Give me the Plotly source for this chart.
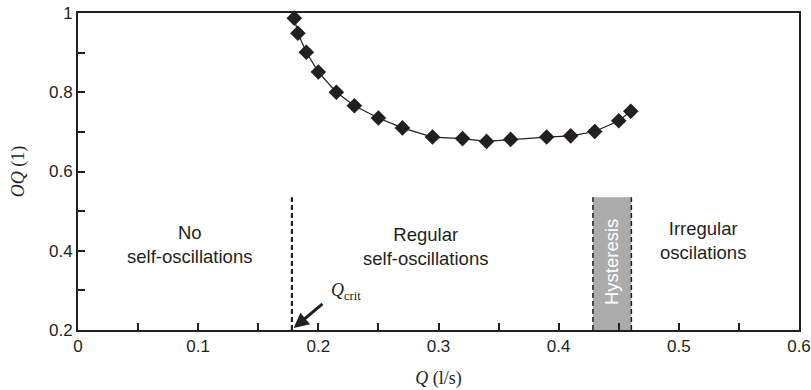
import plotly.graph_objects as go

# Data
q_values = [0.180, 0.183, 0.190, 0.200, 0.215, 0.230, 0.250, 0.270, 0.295,
            0.320, 0.340, 0.360, 0.390, 0.410, 0.430, 0.450, 0.460]
oq_values = [0.987, 0.949, 0.901, 0.851, 0.800, 0.766, 0.735, 0.710, 0.687,
             0.683, 0.676, 0.681, 0.687, 0.690, 0.701, 0.728, 0.752]
q_crit = 0.178
hyst_start, hyst_end = 0.4285, 0.4605
region_top = 0.535

ink = "#231f20"
sans = "Liberation Sans, Arial, sans-serif"
serif = "Liberation Serif, Times New Roman, serif"

fig = go.Figure()

# Hysteresis band
fig.add_shape(type="rect", xref="x", yref="y", x0=hyst_start, x1=hyst_end,
              y0=0.2, y1=region_top, fillcolor="#ababab", line=dict(width=0), layer="below")
for xv in (hyst_start, hyst_end):
    fig.add_shape(type="line", xref="x", yref="y", x0=xv, x1=xv, y0=0.2, y1=region_top,
                  line=dict(color=ink, width=1.5, dash="5px,3px"))
# Q_crit dashed line
fig.add_shape(type="line", xref="x", yref="y", x0=q_crit, x1=q_crit, y0=0.2, y1=region_top,
              line=dict(color=ink, width=2.2, dash="5px,3px"))

fig.add_trace(go.Scatter(
    x=q_values, y=oq_values, mode="lines+markers",
    line=dict(color=ink, width=1.2),
    marker=dict(symbol="diamond", size=12, color=ink, line=dict(width=0)),
    showlegend=False, cliponaxis=False))

txt = dict(family=sans, size=18.5, color=ink)
fig.add_annotation(x=0.093, y=0.415, text="No<br>self-oscillations", showarrow=False, font=txt)
fig.add_annotation(x=0.2895, y=0.41, text="Regular<br>self-oscillations", showarrow=False, font=txt)
fig.add_annotation(x=0.52, y=0.425, text="Irregular<br>oscilations", showarrow=False, font=txt)
fig.add_annotation(x=0.4445, y=0.372, text="Hysteresis", textangle=-90, showarrow=False,
                   font=dict(family=sans, size=18.5, color="white"))
fig.add_annotation(x=0.223, y=0.298, text="<i>Q</i><sub>crit</sub>", showarrow=False,
                   font=dict(family=serif, size=18, color=ink))
fig.add_annotation(x=0.1795, y=0.205, ax=0.2047, ay=0.269, axref="x", ayref="y",
                   xref="x", yref="y", text="", showarrow=True, arrowhead=2,
                   arrowsize=1, arrowwidth=3, arrowcolor=ink)

axis_common = dict(showline=True, linecolor=ink, linewidth=2, mirror=True,
                   showgrid=False, zeroline=False, ticks="inside", ticklen=7,
                   tickcolor=ink, tickwidth=1.5, automargin=False,
                   tickfont=dict(family=sans, size=17, color=ink))
fig.update_xaxes(range=[0, 0.6], dtick=0.1, tick0=0,
                 minor=dict(dtick=0.05, ticks="inside", ticklen=7, tickcolor=ink, tickwidth=1.5),
                 title=dict(text="<i>Q</i> (l/s)", font=dict(family=serif, size=18, color=ink), standoff=16),
                 **axis_common)
fig.update_yaxes(range=[0.2, 1], dtick=0.2, tick0=0.2,
                 minor=dict(dtick=0.1, ticks="inside", ticklen=7, tickcolor=ink, tickwidth=1.5),
                 title=dict(text="<i>OQ</i> (1)", font=dict(family=serif, size=18, color=ink), standoff=20),
                 **axis_common)

fig.update_layout(width=811, height=390, margin=dict(l=78, r=12, t=13, b=60),
                  plot_bgcolor="white", paper_bgcolor="white")

fig.write_html("out.html")
